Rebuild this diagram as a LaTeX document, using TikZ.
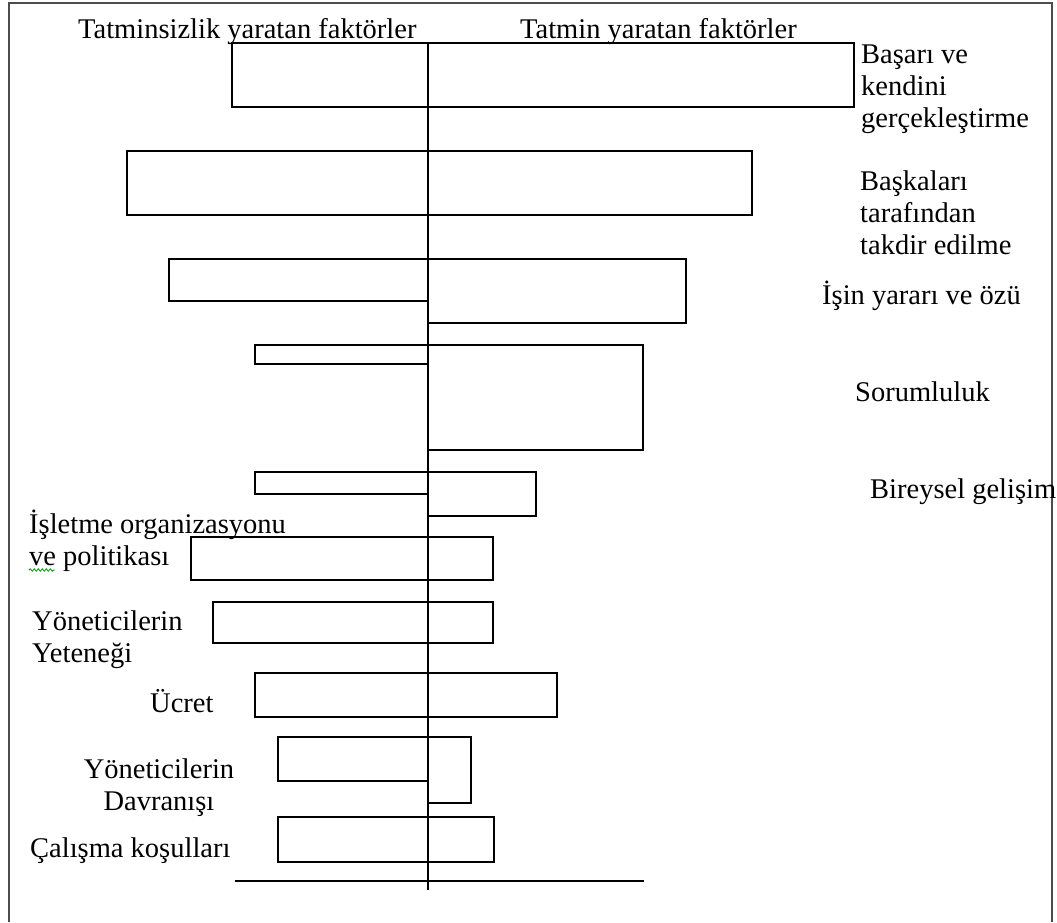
\documentclass[tikz,border=0pt]{standalone}
\usepackage{fontspec}
\setmainfont{Liberation Serif}
\usetikzlibrary{decorations.pathmorphing}
\begin{document}
\begin{tikzpicture}[x=1pt,y=-1pt,
  bar/.style={draw=black,line width=1.7pt},
  frame/.style={draw=black!70,line width=2.2pt},
  lbl/.style={anchor=base west,inner sep=0pt,align=left,font=\fontsize{28.5}{32}\selectfont},
  clbl/.style={anchor=base,inner sep=0pt,align=center,font=\fontsize{28.5}{32}\selectfont}]
\useasboundingbox (0,0) rectangle (1057,922);
% outer frame (open at the bottom)
\draw[frame] (9,922) -- (9,3) -- (1052,3) -- (1052,922);
% titles
\node[lbl] (tl) at (78,38) {Tatminsizlik yaratan faktörler};
\node[lbl] (tr) at (520,38) {Tatmin yaratan faktörler};
% bars
\draw[bar] (232,43) rectangle (854,107);
\draw[bar] (127,151) rectangle (752,215);
\draw[bar] (428,259) -| (169,301) -- (428,301);
\draw[bar] (428,259) -| (686,323) -- (428,323);
\draw[bar] (428,345) -| (255,364) -- (428,364);
\draw[bar] (428,345) -| (643,450) -- (428,450);
\draw[bar] (428,472) -| (255,494) -- (428,494);
\draw[bar] (428,472) -| (536,516) -- (428,516);
\draw[bar] (191,537) rectangle (493,580);
\draw[bar] (213,602) rectangle (493,643);
\draw[bar] (255,673) rectangle (557,717);
\draw[bar] (428,737) -| (278,781) -- (428,781);
\draw[bar] (428,737) -| (471,803) -- (428,803);
\draw[bar] (278,817) rectangle (494,862);
% baseline and axis
\draw[bar] (235,881) -- (644,881);
\draw[bar] (428,43) -- (428,890);
% right labels (multi-line nodes: base = last line)
\node[lbl] (l1) at (861,127) {Başarı ve\\kendini\\gerçekleştirme};
\node[lbl] (l2) at (860,254) {Başkaları\\tarafından\\takdir edilme};
\node[lbl] (l3) at (822,304) {İşin yararı ve özü};
\node[lbl] (l4) at (855,401) {Sorumluluk};
\node[lbl] (l5) at (870,498) {Bireysel gelişim};
% left labels
\node[lbl] (l6) at (29,565) {İşletme organizasyonu\\ve politikası};
\draw[green!60!black,line width=0.8pt,decorate,decoration={snake,amplitude=1.2pt,segment length=4pt}] (29,570) -- (55,570);
\node[lbl] (l7) at (32,662) {Yöneticilerin\\Yeteneği};
\node[lbl] (l8) at (150,712) {Ücret};
\node[clbl] (l9) at (159,810) {Yöneticilerin\\Davranışı};
\node[lbl] (l10) at (30,857) {Çalışma koşulları};
\end{tikzpicture}
\end{document}
